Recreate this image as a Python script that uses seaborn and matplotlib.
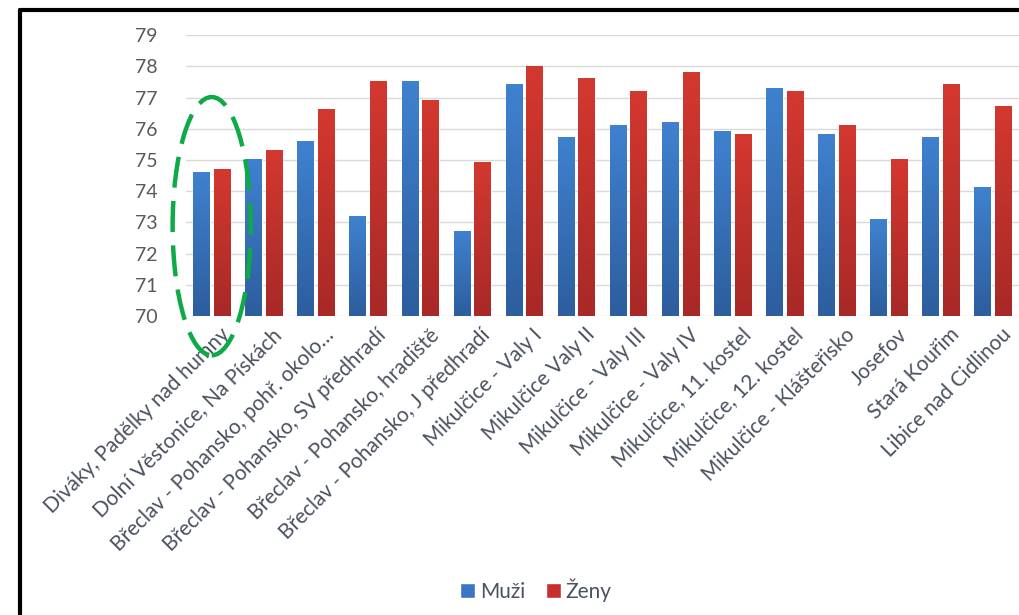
import numpy as np
import pandas as pd
import seaborn as sns
import matplotlib.pyplot as plt
import matplotlib.colors as mcolors
import matplotlib.transforms as mtransforms
from matplotlib.patches import Ellipse
from matplotlib.lines import Line2D

sites = [
    "Diváky, Padělky nad humny",
    "Dolní Věstonice, Na Pískách",
    "Břeclav - Pohansko, pohř. okolo…",
    "Břeclav - Pohansko, SV předhradí",
    "Břeclav - Pohansko, hradiště",
    "Břeclav - Pohansko, J předhradí",
    "Mikulčice - Valy I",
    "Mikulčice Valy II",
    "Mikulčice - Valy III",
    "Mikulčice - Valy IV",
    "Mikulčice, 11. kostel",
    "Mikulčice, 12. kostel",
    "Mikulčice - Klášteřisko",
    "Josefov",
    "Stará Kouřim",
    "Libice nad Cidlinou",
]
muzi = [74.6, 75.0, 75.6, 73.2, 77.5, 72.7, 77.4, 75.7, 76.1, 76.2, 75.9, 77.3, 75.8, 73.1, 75.7, 74.1]
zeny = [74.7, 75.3, 76.6, 77.5, 76.9, 74.9, 78.0, 77.6, 77.2, 77.8, 75.8, 77.2, 76.1, 75.0, 77.4, 76.7]
series = ["Muži", "Ženy"]
yticks = list(range(70, 80))
Y_MIN, Y_MAX = 70, 79

df = pd.DataFrame({
    "site": sites * 2,
    "value": muzi + zeny,
    "sex": [series[0]] * len(sites) + [series[1]] * len(sites),
})

sns.set_style("white")
plt.rcParams['font.family'] = ['Lato', 'DejaVu Sans']
text_col = '#595959'
label_col = '#4a5260'
blue, red = '#3a76c2', '#c8302d'
grads = {blue: ['#2d5e9e', '#3f81cf'], red: ['#a82927', '#d3382f']}

fig = plt.figure(figsize=(10.2, 6.15), dpi=100)
ax = fig.add_axes([0.182, 0.486, 0.817, 0.457])

sns.barplot(df, x="site", y="value", hue="sex", ax=ax,
            palette={"Muži": blue, "Ženy": red},
            width=0.79, gap=0.0, saturation=1, zorder=3)

# narrow the bars a bit (keep centres) and give them the soft vertical shading
bar_w = 0.315
for p in list(ax.patches):
    if p.get_height() <= 0:
        continue
    fc = mcolors.to_hex(p.get_facecolor())
    cx = p.get_x() + p.get_width() / 2
    p.set_x(cx - bar_w / 2)
    p.set_width(bar_w)
    key = blue if fc == blue else red
    cmap = mcolors.LinearSegmentedColormap.from_list('g', grads[key])
    x0, top = p.get_x(), p.get_y() + p.get_height()
    ax.imshow(np.linspace(0, 1, 64).reshape(-1, 1), cmap=cmap, origin='lower',
              extent=[x0, x0 + bar_w, Y_MIN, top], aspect='auto', zorder=3.5)

ax.set_ylim(Y_MIN, Y_MAX)
ax.set_xlim(-0.5, len(sites) - 0.5)
ax.set_yticks(yticks)
ax.yaxis.grid(True, color='#d9d9d9', linewidth=1.0, zorder=0)
ax.set_axisbelow(True)
for s in ax.spines.values():
    s.set_visible(False)
ax.set_xlabel('')
ax.set_ylabel('')
ax.tick_params(axis='y', length=0, pad=20, labelsize=14, labelcolor=text_col)
ax.tick_params(axis='x', length=0, pad=6, labelsize=15, labelcolor=label_col)
ax.set_xticks(range(len(sites)))
ax.set_xticklabels(sites, rotation=45, ha='right', rotation_mode='anchor')
shift = mtransforms.ScaledTranslation(8 / 100, 0, fig.dpi_scale_trans)
for lab in ax.get_xticklabels():
    lab.set_transform(lab.get_transform() + shift)

leg = ax.legend(loc='center', bbox_to_anchor=(0.42, -0.975), ncol=2, frameon=False,
                fontsize=15, handlelength=0.75, handleheight=0.75, handletextpad=0.2,
                columnspacing=1.0, labelcolor=label_col)

# green dashed highlight around the first pair
ell = Ellipse((0, 72.88), width=1.5, height=8.27, fill=False, edgecolor='#0faa48',
              linewidth=3.2, linestyle=(0, (7, 3)), clip_on=False, zorder=5)
ax.add_patch(ell)

# black frame (top and left)
fig.add_artist(Line2D([20 / 1020, 20 / 1020], [0, 1 - 10 / 615], color='black', linewidth=3, transform=fig.transFigure))
fig.add_artist(Line2D([20 / 1020, 1], [1 - 10 / 615, 1 - 10 / 615], color='black', linewidth=3, transform=fig.transFigure))

fig.savefig('out.png', dpi=100)
